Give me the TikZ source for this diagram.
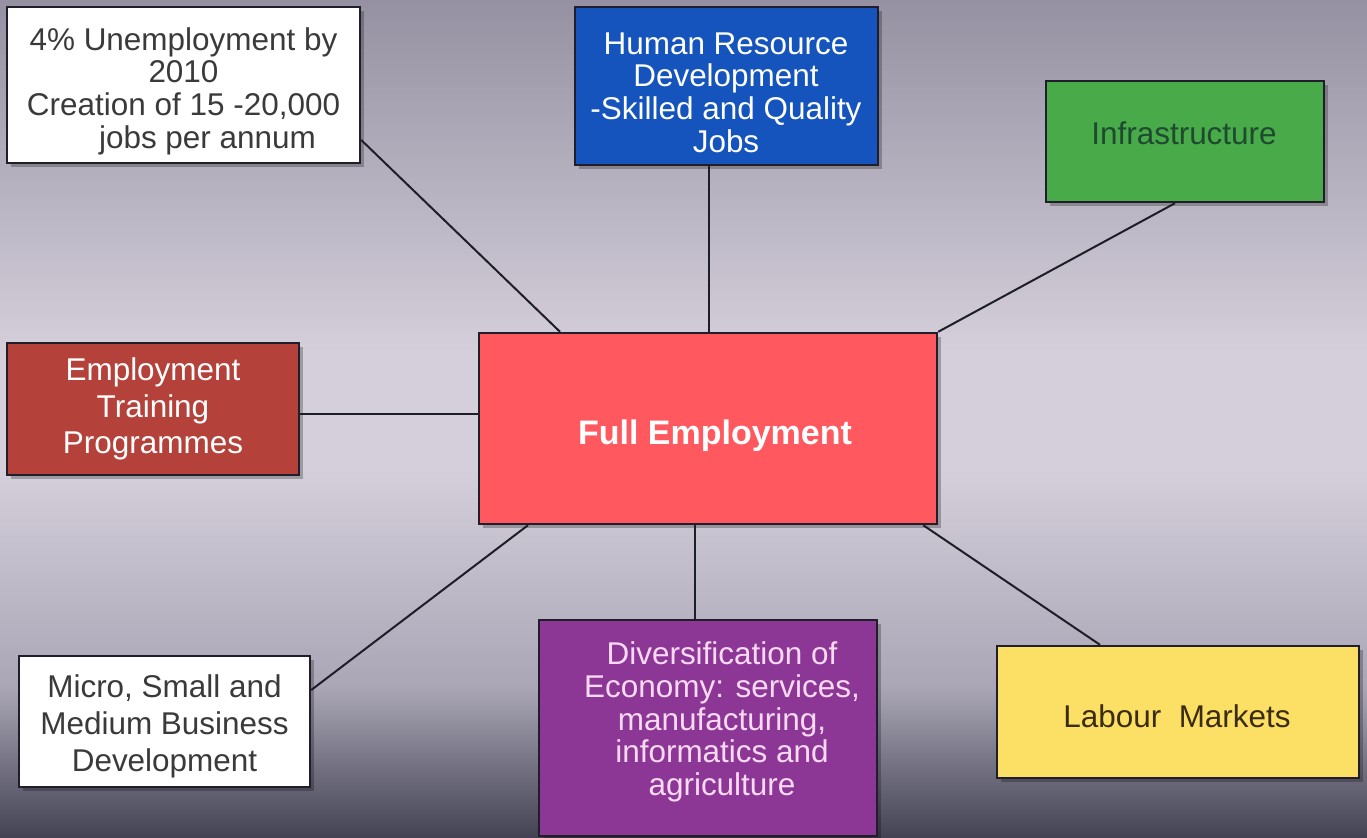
\documentclass[tikz,border=0pt]{standalone}
\usepackage{fontspec}
\setmainfont{Liberation Sans}
\usetikzlibrary{shadows,calc}
\definecolor{bgT}{RGB}{150,145,162}
\definecolor{bgM}{RGB}{212,207,218}
\definecolor{bgL}{RGB}{170,166,182}
\definecolor{bgB}{RGB}{66,66,82}
\definecolor{boxline}{RGB}{32,30,42}
\definecolor{connc}{RGB}{30,30,40}
\definecolor{blueF}{RGB}{20,84,188}
\definecolor{greenF}{RGB}{72,170,72}
\definecolor{greenT}{RGB}{30,74,48}
\definecolor{brickF}{RGB}{180,66,58}
\definecolor{redF}{RGB}{255,88,95}
\definecolor{purpleF}{RGB}{140,55,150}
\definecolor{purpleT}{RGB}{250,218,242}
\definecolor{yellowF}{RGB}{252,224,102}
\definecolor{yellowT}{RGB}{58,44,16}
\definecolor{grayT}{RGB}{58,58,58}
\pgfdeclareverticalshading{bgshade}{100bp}{color(0bp)=(bgB); color(25bp)=(bgB); color(34bp)=(bgL); color(47bp)=(bgM); color(54bp)=(bgM); color(75bp)=(bgT); color(100bp)=(bgT)}
\tikzset{
  box/.style={draw=boxline, line width=1.8pt, inner sep=0pt,
    drop shadow={shadow xshift=3pt, shadow yshift=-3pt, opacity=0.25, fill=black}},
  txt/.style={align=center, inner sep=0pt, font=\fontsize{23.6}{24.5}\selectfont},
  conn/.style={draw=connc, line width=1.5pt}
}
\begin{document}
\begin{tikzpicture}[x=0.75pt,y=-0.75pt]
\shade[shading=bgshade] (0,0) rectangle (1367,838);
\useasboundingbox (0,0) rectangle (1367,838);

% boxes
\node[box, fill=white, minimum width=264.75pt, minimum height=117pt] (tl) at (183.5,85) {};
\node[box, fill=blueF, minimum width=227.25pt, minimum height=118.5pt] (hr) at (726.5,86) {};
\node[box, fill=greenF, minimum width=208.5pt, minimum height=90.75pt] (inf) at (1185,141.5) {};
\node[box, fill=brickF, minimum width=219pt, minimum height=99pt] (etp) at (153,409) {};
\node[box, fill=redF, minimum width=343.5pt, minimum height=143.25pt] (full) at (708,428.5) {};
\node[box, fill=white, minimum width=218.25pt, minimum height=98.25pt] (msme) at (164.5,721.5) {};
\node[box, fill=purpleF, minimum width=253.5pt, minimum height=162pt] (div) at (708,728) {};
\node[box, fill=yellowF, minimum width=271.5pt, minimum height=99pt] (lab) at (1178,712) {};

% texts
\node[txt, text=grayT] (tlt) at (183.5,91)
  {4\% Unemployment by\\2010\\Creation of 15 -20,000\\\hspace*{36pt}jobs per annum};
\node[txt, text=white] (hrt) at (726,92.5)
  {Human Resource\\Development\\-Skilled and Quality\\Jobs};
\node[txt, text=greenT] (inft) at (1184,133.5) {Infrastructure};
\node[txt, text=white, font=\fontsize{23.6}{27.5}\selectfont] (etpt) at (153,409)
  {Employment\\Training\\Programmes};
\node[txt, text=white, font=\fontsize{25.5}{28}\selectfont\bfseries] (fullt) at (715,435.5)
  {Full Employment};
\node[txt, text=grayT, font=\fontsize{23.6}{27.5}\selectfont] (msmet) at (164.5,726.5)
  {Micro, Small and\\Medium Business\\Development};
\node[txt, text=purpleT] (divt) at (722,722)
  {Diversification of\\Economy: services,\\manufacturing,\\informatics and\\agriculture};
\node[txt, text=yellowT] (labt) at (1177,716) {Labour\ \ Markets};

% connectors
\draw[conn] ([yshift=-41.25pt]tl.east) -- ([xshift=-111pt]full.north);
\draw[conn] ([xshift=-13.5pt]hr.south) -- ([xshift=-13.5pt]hr.south |- full.north);
\draw[conn] ([xshift=-7.5pt]inf.south) -- (full.north east);
\draw[conn] ([yshift=-3.75pt]etp.east) -- ([yshift=-3.75pt]etp.east -| full.west);
\draw[conn] ([yshift=23.6pt]msme.east) -- ([xshift=-135pt]full.south);
\draw[conn] ([xshift=-9.75pt]div.north) -- ([xshift=-9.75pt]full.south);
\draw[conn] ([xshift=-58.5pt]lab.north) -- ([xshift=-11.25pt]full.south east);
\end{tikzpicture}
\end{document}
